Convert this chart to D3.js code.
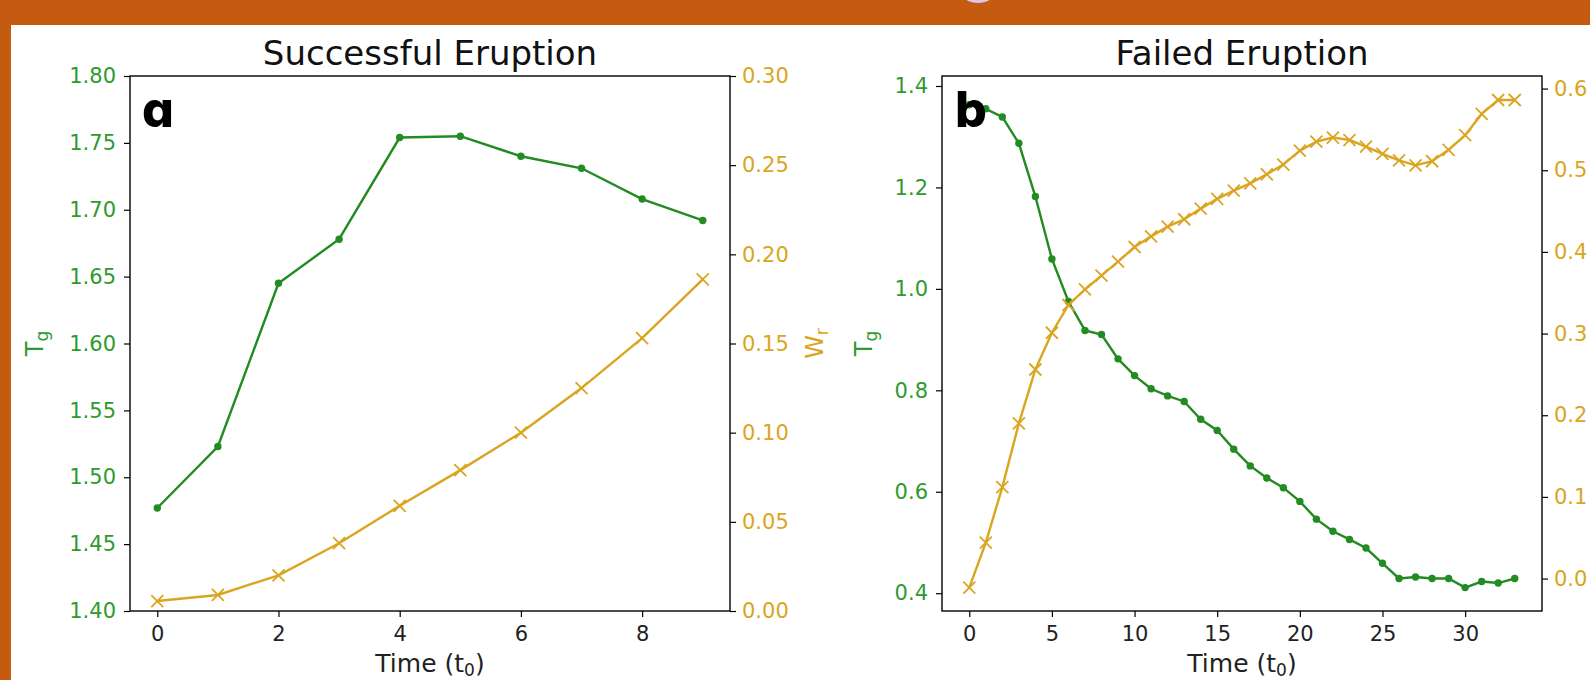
<!DOCTYPE html>
<html>
<head>
<meta charset="utf-8">
<script src="https://cdn.jsdelivr.net/npm/d3@7"></script>
<style>
body { margin: 0; background: #fff; }
svg { display: block; font-family: "DejaVu Sans", sans-serif; }
.axis .domain { display: none; }
.axis .tick line { stroke: #000; stroke-width: 1.2; }
.axis .tick text { font-size: 21px; font-family: "DejaVu Sans", sans-serif; }
.frame { fill: none; stroke: #000; stroke-width: 1.4; }
.panel-tag { font-family: Inter, sans-serif; font-weight: 800; font-size: 50px; font-feature-settings: "cv11" 1; }
</style>
</head>
<body>
<svg width="1590" height="680"></svg>
<script>
// Successful eruption (panel a)
var timeA = [0, 1, 2, 3, 4, 5, 6, 7, 8, 9];
var tgA = [1.477, 1.523, 1.645, 1.678, 1.754, 1.755, 1.740, 1.731, 1.708, 1.692];
var wrA = [0.0056, 0.009, 0.020, 0.038, 0.059, 0.079, 0.100, 0.125, 0.153, 0.186];

// Failed eruption (panel b)
var timeB = [0, 1, 2, 3, 4, 5, 6, 7, 8, 9, 10, 11, 12, 13, 14, 15, 16,
    17, 18, 19, 20, 21, 22, 23, 24, 25, 26, 27, 28, 29, 30, 31, 32, 33];
var tgB = [1.363, 1.355, 1.339, 1.287, 1.182, 1.059, 0.975, 0.918, 0.910, 0.862,
    0.829, 0.803, 0.789, 0.778, 0.743, 0.721, 0.684, 0.651, 0.627, 0.608,
    0.581, 0.546, 0.522, 0.506, 0.489, 0.459, 0.429, 0.432, 0.429, 0.429,
    0.411, 0.423, 0.420, 0.429];
var wrB = [-0.011, 0.044, 0.112, 0.190, 0.256, 0.301, 0.335, 0.354, 0.371, 0.388,
    0.406, 0.419, 0.431, 0.440, 0.453, 0.465, 0.475, 0.484, 0.495, 0.507,
    0.524, 0.535, 0.540, 0.537, 0.529, 0.520, 0.512, 0.506, 0.511, 0.525,
    0.543, 0.569, 0.586, 0.586];

var ticksA = { x: [0, 2, 4, 6, 8], left: [1.40, 1.45, 1.50, 1.55, 1.60, 1.65, 1.70, 1.75, 1.80],
    right: [0, 0.05, 0.10, 0.15, 0.20, 0.25, 0.30] };
var ticksB = { x: [0, 5, 10, 15, 20, 25, 30], left: [0.4, 0.6, 0.8, 1.0, 1.2, 1.4],
    right: [0, 0.1, 0.2, 0.3, 0.4, 0.5, 0.6] };

var green = "#228b22", greenText = "#2e9a2e", gold = "#daa520";

var svg = d3.select("svg");

// slide background + orange border
svg.append("rect").attr("width", 1590).attr("height", 680).attr("fill", "#fff");
svg.append("rect").attr("width", 1590).attr("height", 25).attr("fill", "#c55a11");
svg.append("rect").attr("width", 11).attr("height", 680).attr("fill", "#c55a11");
svg.append("ellipse").attr("cx", 978).attr("cy", -3).attr("rx", 13).attr("ry", 6)
    .attr("fill", "#dcc6ee");

var plotTop = 76, plotBottom = 611;

function panel(opt) {
    var x = d3.scaleLinear().domain(opt.xDomain).range([opt.left, opt.right]),
        yL = d3.scaleLinear().domain(opt.leftDomain).range([plotBottom, plotTop]),
        yR = d3.scaleLinear().domain(opt.rightDomain).range([plotBottom, plotTop]);

    var g = svg.append("g");

    g.append("g")
        .attr("class", "axis")
        .attr("transform", "translate(0," + plotBottom + ")")
        .call(d3.axisBottom(x).tickValues(opt.ticks.x).tickSize(6).tickPadding(9))
        .selectAll("text").attr("fill", "#222");

    g.append("g")
        .attr("class", "axis")
        .attr("transform", "translate(" + opt.left + ",0)")
        .call(d3.axisLeft(yL).tickValues(opt.ticks.left).tickSize(6).tickPadding(8)
            .tickFormat(d3.format(opt.leftFmt)))
        .selectAll("text").attr("fill", greenText);

    g.append("g")
        .attr("class", "axis")
        .attr("transform", "translate(" + opt.right + ",0)")
        .call(d3.axisRight(yR).tickValues(opt.ticks.right).tickSize(6).tickPadding(6)
            .tickFormat(d3.format(opt.rightFmt)))
        .selectAll("text").attr("fill", gold);

    // green T_g series
    var lineL = d3.line().x(function(d, i) { return x(opt.time[i]); }).y(function(d) { return yL(d); });
    g.append("path").datum(opt.tg)
        .attr("d", lineL)
        .attr("fill", "none").attr("stroke", green).attr("stroke-width", 2.4);
    g.selectAll(".dot").data(opt.tg).enter().append("circle")
        .attr("cx", function(d, i) { return x(opt.time[i]); })
        .attr("cy", function(d) { return yL(d); })
        .attr("r", 3.7)
        .attr("fill", green);

    // gold W_r series
    var lineR = d3.line().x(function(d, i) { return x(opt.time[i]); }).y(function(d) { return yR(d); });
    g.append("path").datum(opt.wr)
        .attr("d", lineR)
        .attr("fill", "none").attr("stroke", gold).attr("stroke-width", 2.4);
    g.selectAll(".cross").data(opt.wr).enter().append("path")
        .attr("transform", function(d, i) { return "translate(" + x(opt.time[i]) + "," + yR(d) + ")"; })
        .attr("d", "M-6,-6L6,6M-6,6L6,-6")
        .attr("stroke", gold).attr("stroke-width", 1.8);

    g.append("rect")
        .attr("class", "frame")
        .attr("x", opt.left).attr("y", plotTop)
        .attr("width", opt.right - opt.left).attr("height", plotBottom - plotTop);

    var cx = (opt.left + opt.right) / 2,
        cy = (plotTop + plotBottom) / 2;
    g.append("text")
        .attr("x", cx).attr("y", 65)
        .attr("text-anchor", "middle")
        .attr("font-size", 34)
        .attr("fill", "#111")
        .text(opt.title);

    var xl = g.append("text")
        .attr("x", cx).attr("y", 672)
        .attr("text-anchor", "middle")
        .attr("font-size", 25)
        .attr("fill", "#222");
    xl.append("tspan").text("Time (t");
    xl.append("tspan").attr("font-size", 17).attr("dy", 4).text("0");
    xl.append("tspan").attr("dy", -4).text(")");

    var tl = g.append("text")
        .attr("transform", "translate(" + opt.tgLabelX + "," + cy + ") rotate(-90)")
        .attr("text-anchor", "middle")
        .attr("font-size", 24)
        .attr("fill", greenText);
    tl.append("tspan").text("T");
    tl.append("tspan").attr("font-size", 17).attr("dy", 5).text("g");

    if (opt.wrLabelX) {
        var wl = g.append("text")
            .attr("transform", "translate(" + opt.wrLabelX + "," + cy + ") rotate(-90)")
            .attr("text-anchor", "middle")
            .attr("font-size", 24)
            .attr("fill", gold);
        wl.append("tspan").text("W");
        wl.append("tspan").attr("font-size", 17).attr("dy", 5).text("r");
    }

    g.append("text")
        .attr("class", "panel-tag")
        .attr("x", opt.tagX).attr("y", 127)
        .attr("fill", "#000")
        .text(opt.tag);
}

panel({
    title: "Successful Eruption", tag: "a", tagX: 142,
    left: 130, right: 730,
    xDomain: [-0.45, 9.45], leftDomain: [1.40, 1.80], rightDomain: [0, 0.30],
    leftFmt: ".2f", rightFmt: ".2f",
    ticks: ticksA, time: timeA, tg: tgA, wr: wrA,
    tgLabelX: 43, wrLabelX: 823
});

// the W_r label of panel b falls outside the picture, as in the source
panel({
    title: "Failed Eruption", tag: "b", tagX: 955,
    left: 942, right: 1542,
    xDomain: [-1.65, 34.65], leftDomain: [0.3649, 1.4197], rightDomain: [-0.0397, 0.6154],
    leftFmt: ".1f", rightFmt: ".1f",
    ticks: ticksB, time: timeB, tg: tgB, wr: wrB,
    tgLabelX: 872, wrLabelX: null
});
</script>
</body>
</html>
